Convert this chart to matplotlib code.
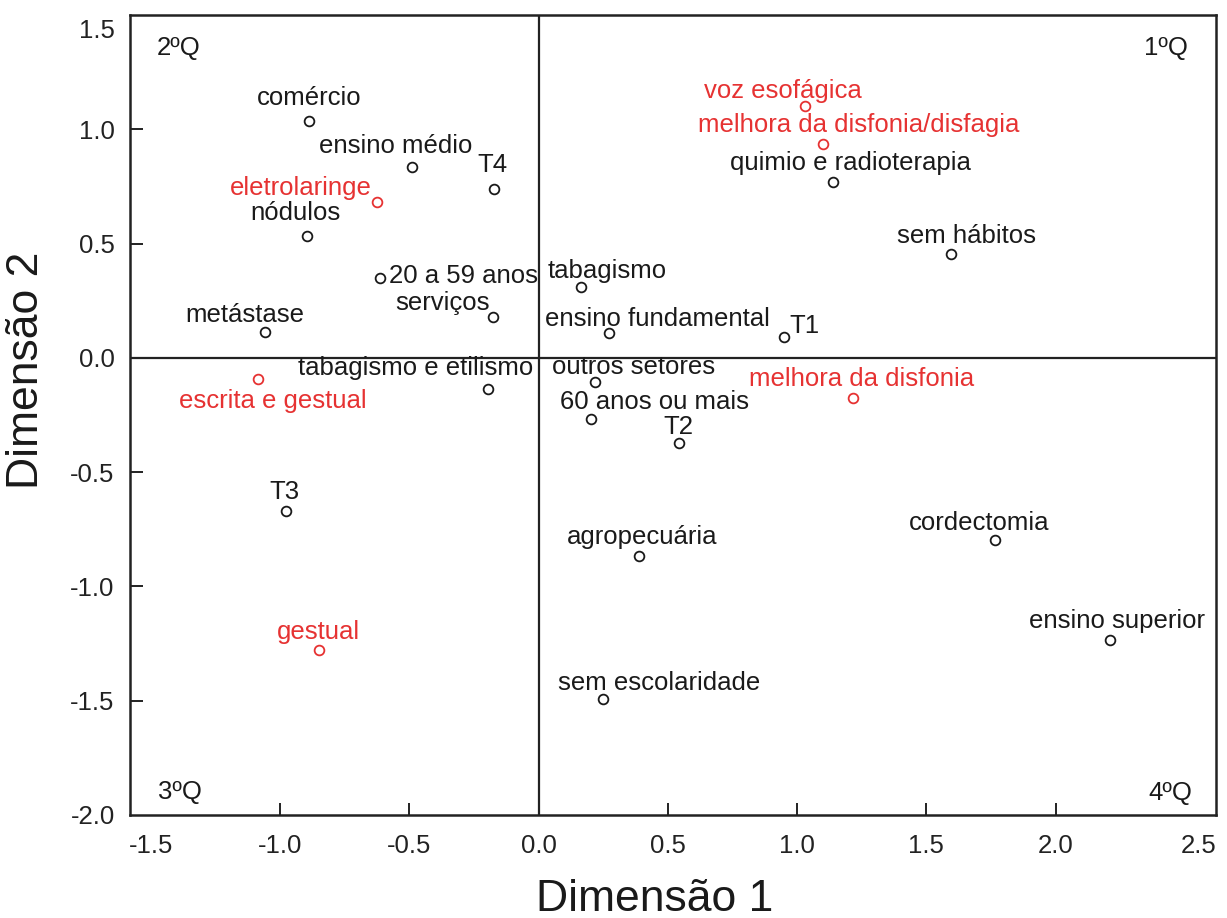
import matplotlib
matplotlib.use("Agg")
import matplotlib.pyplot as plt
import matplotlib.transforms as mtransforms

plt.rcParams['font.family'] = ['Liberation Sans', 'DejaVu Sans']

# ---- data ----
black_labels = ["comércio", "ensino médio", "T4", "nódulos", "20 a 59 anos", "serviços",
                "metástase", "tabagismo e etilismo", "T3", "tabagismo", "ensino fundamental",
                "T1", "quimio e radioterapia", "sem hábitos", "outros setores",
                "60 anos ou mais", "T2", "agropecuária", "sem escolaridade", "cordectomia",
                "ensino superior"]
black_x = [-0.888, -0.489, -0.172, -0.895, -0.613, -0.176, -1.058, -0.195, -0.977, 0.164,
           0.273, 0.949, 1.139, 1.595, 0.218, 0.203, 0.543, 0.389, 0.249, 1.765, 2.210]
black_y = [1.036, 0.835, 0.739, 0.533, 0.349, 0.179, 0.113, -0.136, -0.670, 0.310, 0.109,
           0.091, 0.769, 0.454, -0.106, -0.268, -0.373, -0.867, -1.493, -0.797, -1.234]

red_labels = ["voz esofágica", "melhora da disfonia/disfagia", "eletrolaringe",
              "escrita e gestual", "melhora da disfonia", "gestual"]
red_x = [1.031, 1.100, -0.625, -1.085, 1.216, -0.849]
red_y = [1.102, 0.936, 0.682, -0.093, -0.176, -1.278]

x_ticks = [-1.5, -1.0, -0.5, 0.0, 0.5, 1.0, 1.5, 2.0, 2.5]
y_ticks = [-2.0, -1.5, -1.0, -0.5, 0.0, 0.5, 1.0, 1.5]
quadrants = ["1ºQ", "2ºQ", "3ºQ", "4ºQ"]

# ---- label layout (offsets in pixels, alignment) ----
black_layout = {
    "comércio": (0, 16, 'center'), "ensino médio": (-16, 14, 'center'), "T4": (-2, 17, 'center'),
    "nódulos": (-12, 16, 'center'), "20 a 59 anos": (9, -5, 'left'), "serviços": (-3, 7, 'right'),
    "metástase": (-20, 10, 'center'), "tabagismo e etilismo": (-72, 14, 'center'),
    "T3": (-1, 12, 'center'), "tabagismo": (26, 9, 'center'),
    "ensino fundamental": (48, 7, 'center'), "T1": (5, 4, 'left'),
    "quimio e radioterapia": (17, 12, 'center'), "sem hábitos": (16, 11, 'center'),
    "outros setores": (39, 8, 'center'), "60 anos ou mais": (63, 10, 'center'),
    "T2": (-1, 9, 'center'), "agropecuária": (3, 12, 'center'),
    "sem escolaridade": (56, 9, 'center'), "cordectomia": (-16, 10, 'center'),
    "ensino superior": (7, 12, 'center'),
}
red_layout = {
    "voz esofágica": (-22, 8, 'center'), "melhora da disfonia/disfagia": (36, 12, 'center'),
    "eletrolaringe": (-5, 7, 'right'), "escrita e gestual": (15, -29, 'center'),
    "melhora da disfonia": (9, 12, 'center'), "gestual": (-1, 11, 'center'),
}

BLACK = '#1a1a1a'
RED = '#e63232'
FS = 18.5

fig = plt.figure(figsize=(12.27, 9.18), dpi=100)
ax = fig.add_axes([130/1227, 1 - 815/918, (1216-130)/1227, (815-15)/918])

ax.set_xlim(-1.58, 2.62)
ax.set_ylim(-2.0, 1.5)

ax.axhline(0, color='#222222', lw=1.6, zorder=1)
ax.axvline(0, color='#222222', lw=1.6, zorder=1)

ax.plot(black_x, black_y, linestyle='none', marker='o', markersize=7, mfc='white',
        mec=BLACK, mew=1.3, zorder=3)
ax.plot(red_x, red_y, linestyle='none', marker='o', markersize=7, mfc='white',
        mec=RED, mew=1.3, zorder=3)

for lab, x, y in zip(black_labels, black_x, black_y):
    dx, dy, ha = black_layout[lab]
    ax.annotate(lab, (x, y), xytext=(dx, dy), textcoords='offset pixels', ha=ha,
                va='baseline', fontsize=FS, color=BLACK, zorder=4)
for lab, x, y in zip(red_labels, red_x, red_y):
    dx, dy, ha = red_layout[lab]
    ax.annotate(lab, (x, y), xytext=(dx, dy), textcoords='offset pixels', ha=ha,
                va='baseline', fontsize=FS, color=RED, zorder=4)

# quadrant labels
ax.text(0.974, 0.95, quadrants[0], transform=ax.transAxes, ha='right', va='baseline', fontsize=FS, color=BLACK)
ax.text(0.025, 0.95, quadrants[1], transform=ax.transAxes, ha='left', va='baseline', fontsize=FS, color=BLACK)
ax.text(0.026, 0.02, quadrants[2], transform=ax.transAxes, ha='left', va='baseline', fontsize=FS, color=BLACK)
ax.text(0.978, 0.019, quadrants[3], transform=ax.transAxes, ha='right', va='baseline', fontsize=FS, color=BLACK)

ax.set_xticks(x_ticks)
ax.set_yticks(y_ticks)
ax.set_xticklabels([f"{v:.1f}" for v in x_ticks])
ax.set_yticklabels([f"{v:.1f}" for v in y_ticks])
ax.tick_params(direction='in', length=9, width=1.4, labelsize=FS, colors='#222222',
               top=False, right=False)
ax.tick_params(axis='y', pad=11)
ax.tick_params(axis='x', pad=14)
for s in ax.spines.values():
    s.set_linewidth(1.8)
    s.set_color('#222222')

# no tick marks at the frame edges
xt = ax.xaxis.get_major_ticks()
yt = ax.yaxis.get_major_ticks()
for t in (xt[0], xt[-1], yt[0], yt[-1]):
    t.tick1line.set_visible(False)
# small label shifts as in the reference
yt[-1].label1.set_transform(yt[-1].label1.get_transform() +
                            mtransforms.ScaledTranslation(0, -0.14, fig.dpi_scale_trans))
xt[-1].label1.set_transform(xt[-1].label1.get_transform() +
                            mtransforms.ScaledTranslation(0.14, 0, fig.dpi_scale_trans))

ax.set_xlabel("Dimensão 1", fontsize=32, color=BLACK)
ax.set_ylabel("Dimensão 2", fontsize=32, color=BLACK)
ax.xaxis.set_label_coords(0.483, -0.106)
ax.yaxis.set_label_coords(-0.095, 0.556)
ax.xaxis.label.set_va('center')
ax.yaxis.label.set_va('center')

fig.savefig("out.png", dpi=100, facecolor='white')
